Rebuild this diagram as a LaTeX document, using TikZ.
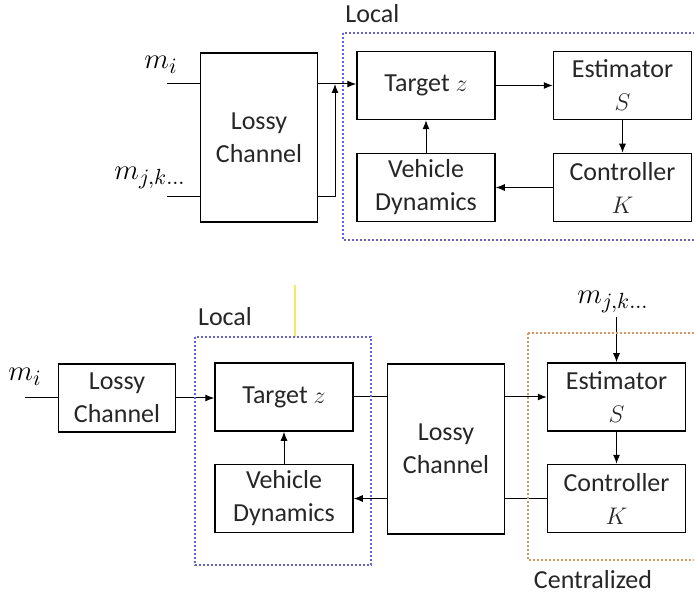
\documentclass[tikz,border=0pt]{standalone}
\usepackage{fontspec}
\setmainfont{Carlito}
\usetikzlibrary{arrows.meta}

\definecolor{localc}{RGB}{100,100,200}
\definecolor{centralc}{RGB}{215,150,100}
\definecolor{markc}{RGB}{245,235,90}

\begin{document}
\begin{tikzpicture}[
    x=0.5pt, y=-0.5pt,
    block/.style={draw, line width=0.75pt, align=center, inner sep=0pt,
      minimum width=69pt, minimum height=34pt, text=black!85,
      font=\fontsize{13}{16.5}\selectfont},
    channel/.style={block, minimum width=58.5pt},
    flow/.style={-{Latex[length=4.5pt, width=3.5pt]}, line width=0.5pt},
    wire/.style={line width=0.5pt},
    zone/.style={line width=0.6pt, dash pattern=on 1.2pt off 0.8pt},
    tag/.style={inner sep=0pt, text=black!85, font=\fontsize{13}{15}\selectfont},
    sig/.style={inner sep=0pt, font=\fontsize{15}{17}\selectfont},
  ]
  \useasboundingbox (0,0) rectangle (694,597);

  % --- local loop behind one lossy channel ---------------------------------
  \node[channel, minimum height=84.5pt] (ch1) at (259,137.5) {Lossy\\Channel};
  \node[block] (tgt1) at (426,85.5)  {Target $z$};
  \node[block] (est1) at (622.5,85.5) {Estimator\\$S$};
  \node[block] (ctl1) at (622.5,187.5) {Controller\\$K$};
  \node[block] (veh1) at (426,187.5) {Vehicle\\Dynamics};

  \node[sig] (mi1)  at (161,65)  {$m_i$};
  \node[sig] (mjk1) at (150,178) {$m_{j,k\ldots}$};
  \coordinate (in1) at (167,84);
  \coordinate (in2) at (167,197);
  \coordinate (jn1) at (335,0);

  \draw[wire] (in1) -- (in1 -| ch1.west);
  \draw[wire] (in2) -- (in2 -| ch1.west);
  \draw[flow] (in1 -| ch1.east) -- (in1 -| tgt1.west);
  \draw[flow] (in2 -| ch1.east) -| (jn1 |- in1);
  \draw[flow] (tgt1.east) -- (est1.west);
  \draw[flow] (est1.south) -- (ctl1.north);
  \draw[flow] (ctl1.west) -- (veh1.east);
  \draw[flow] (veh1.north) -- (tgt1.south);

  \draw[zone, localc] (343,33) rectangle (700,240);
  \node[tag, anchor=west] (local1) at (345,14) {Local};

  % --- centralized estimator and controller --------------------------------
  \node[channel] (ch2) at (117,398) {Lossy\\Channel};
  \node[block] (tgt2) at (284,397)   {Target $z$};
  \node[block] (veh2) at (284,498.5) {Vehicle\\Dynamics};
  \node[channel, minimum height=85pt] (ch3) at (446,449) {Lossy\\Channel};
  \node[block] (est2) at (616.5,397)   {Estimator\\$S$};
  \node[block] (ctl2) at (616.5,498.5) {Controller\\$K$};

  \node[sig] (mi2)  at (25,377)  {$m_i$};
  \node[sig] (mjk2) at (613,302) {$m_{j,k\ldots}$};
  \coordinate (in3) at (25,398);
  \coordinate (src2) at (616.5,317);

  \draw[wire] (in3) -- (ch2.west);
  \draw[flow] (ch2.east) -- (ch2.east -| tgt2.west);
  \draw[wire] (tgt2.east) -- (tgt2.east -| ch3.west);
  \draw[flow] (ch3.east |- est2.west) -- (est2.west);
  \draw[flow] (est2.south) -- (ctl2.north);
  \draw[wire] (ctl2.west) -- (ctl2.west -| ch3.east);
  \draw[flow] (ch3.west |- veh2.east) -- (veh2.east);
  \draw[flow] (veh2.north) -- (tgt2.south);
  \draw[flow] (src2) -- (est2.north);

  \draw[markc, line width=0.7pt] (295,285) -- (295,337);
  \draw[zone, localc] (195,337) rectangle (371,565);
  \draw[zone, centralc] (528,333) rectangle (700,560);
  \node[tag] (local2)   at (225,317) {Local};
  \node[tag] (central2) at (593,580) {Centralized};

\end{tikzpicture}
\end{document}
